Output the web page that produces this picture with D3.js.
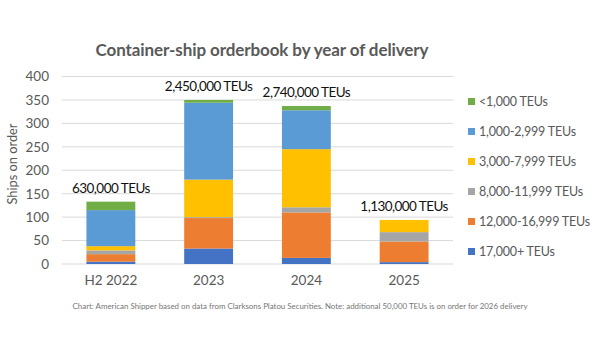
<!DOCTYPE html>
<html>
<head>
<meta charset="utf-8">
<script src="https://cdn.jsdelivr.net/npm/d3@7"></script>
<style>
  html, body { margin: 0; padding: 0; background: #fff; }
  svg { display: block; }
</style>
</head>
<body>
<svg id="chart" width="600" height="350"></svg>
<script>
// ---- Data ----
const categories = ["H2 2022", "2023", "2024", "2025"];
const seriesNames = ["17,000+ TEUs", "12,000-16,999 TEUs", "8,000-11,999 TEUs", "3,000-7,999 TEUs", "1,000-2,999 TEUs", "<1,000 TEUs"];
const s17000 = [5, 33, 13, 4];
const s12000 = [16, 65, 97, 44];
const s8000  = [8, 2, 11, 20];
const s3000  = [9, 80, 124, 26];
const s1000  = [77, 164, 83, 0];
const sUnder1000 = [18, 6, 9, 0];
const totalLabels = ["630,000 TEUs", "2,450,000 TEUs", "2,740,000 TEUs", "1,130,000 TEUs"];
const yTicks = [0, 50, 100, 150, 200, 250, 300, 350, 400];
const colors = ["#4472C4", "#ED7D31", "#A5A5A5", "#FFC000", "#5B9BD5", "#70AD47"];

const seriesValues = [s17000, s12000, s8000, s3000, s1000, sUnder1000];
const keys = seriesNames;
const table = categories.map((c, i) => {
  const row = { cat: c };
  keys.forEach((k, j) => row[k] = seriesValues[j][i]);
  return row;
});

// ---- Layout ----
const svg = d3.select("#chart");
const font = "Lato, 'Open Sans', sans-serif";
const plot = { left: 62, right: 453, top: 76.5, bottom: 264 };

const x = d3.scaleBand().domain(categories).range([plot.left, plot.right]).paddingInner(0.5).paddingOuter(0.25);
const y = d3.scaleLinear().domain([0, 400]).range([plot.bottom, plot.top]);

// Title
svg.append("text")
  .attr("x", 262).attr("y", 56)
  .attr("text-anchor", "middle")
  .attr("font-family", font).attr("font-weight", "bold")
  .attr("font-size", 17).attr("letter-spacing", -0.1).attr("fill", "#595959")
  .text("Container-ship orderbook by year of delivery");

// Gridlines
svg.append("g").selectAll("line").data(yTicks).join("line")
  .attr("x1", plot.left).attr("x2", plot.right)
  .attr("y1", d => y(d)).attr("y2", d => y(d))
  .attr("stroke", "#d9d9d9").attr("stroke-width", 1);

// Y axis
const yAxis = svg.append("g").attr("transform", `translate(${plot.left},0)`)
  .call(d3.axisLeft(y).tickValues(yTicks).tickSize(0).tickPadding(13));
yAxis.select(".domain").remove();
yAxis.selectAll("text").attr("font-family", font).attr("font-size", 13.5).attr("fill", "#595959");

// X axis
const xAxis = svg.append("g").attr("transform", `translate(0,${plot.bottom})`)
  .call(d3.axisBottom(x).tickSize(0).tickPadding(11));
xAxis.select(".domain").remove();
xAxis.selectAll("text").attr("font-family", font).attr("font-size", 13.5).attr("fill", "#595959");

// Y axis title
svg.append("text")
  .attr("transform", "translate(17,164) rotate(-90)")
  .attr("text-anchor", "middle")
  .attr("font-family", font).attr("font-size", 12.8).attr("fill", "#595959")
  .text("Ships on order");

// Bars
const stacked = d3.stack().keys(keys)(table);
svg.append("g").selectAll("g").data(stacked).join("g")
  .attr("fill", (d, i) => colors[i])
  .selectAll("rect").data(d => d).join("rect")
  .attr("x", d => x(d.data.cat))
  .attr("width", x.bandwidth())
  .attr("y", d => y(d[1]))
  .attr("height", d => y(d[0]) - y(d[1]));

// Total labels
const totals = categories.map((c, i) => seriesValues.reduce((s, arr) => s + arr[i], 0));
svg.append("g").selectAll("text").data(categories).join("text")
  .attr("x", d => x(d) + x.bandwidth() / 2)
  .attr("y", (d, i) => y(totals[i]) - 9)
  .attr("text-anchor", "middle")
  .attr("font-family", font).attr("font-size", 13.5).attr("letter-spacing", -0.55).attr("fill", "#111")
  .text((d, i) => totalLabels[i]);

// Legend (top item = last series)
const legendOrder = keys.map((k, i) => ({ name: k, color: colors[i] })).reverse();
const lg = svg.append("g").selectAll("g").data(legendOrder).join("g")
  .attr("transform", (d, i) => `translate(468,${101.5 + i * 30})`);
lg.append("rect").attr("x", 0).attr("y", -3.5).attr("width", 7).attr("height", 7).attr("fill", d => d.color);
lg.append("text").attr("x", 11).attr("y", 0).attr("dy", "0.36em")
  .attr("font-family", font).attr("font-size", 12.5).attr("letter-spacing", -0.2).attr("fill", "#595959")
  .text(d => d.name);

// Footer
svg.append("text")
  .attr("x", 300).attr("y", 309)
  .attr("text-anchor", "middle")
  .attr("font-family", font).attr("font-size", 7.9).attr("fill", "#767676")
  .text("Chart: American Shipper based on data from Clarksons Platou Securities. Note: additional 50,000 TEUs is on order for 2026 delivery");
</script>
</body>
</html>
